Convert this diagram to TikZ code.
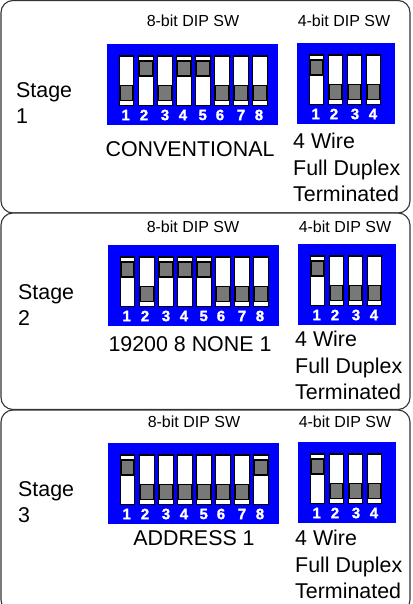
\documentclass[tikz,border=0pt]{standalone}
\usepackage{fontspec}
\setmainfont{Liberation Sans}
\newfontfamily\digitfont[FakeBold=1.5]{Liberation Sans Bold}
\usepackage{xcolor}
\usetikzlibrary{positioning}
\definecolor{dipblue}{HTML}{0000FF}
\definecolor{thumbgray}{HTML}{787878}
\definecolor{framegray}{HTML}{333333}
% #1 left, #2 top of the block, #3 block width, #4 list of slot/label x offsets/state
\newcommand{\dipbank}[4]{%
  \fill[dipblue] (#1,#2) rectangle ++(#3,81);
  \foreach \slotx/\labx/\num/\state in {#4}{
    \draw[black,fill=white,line width=1.3pt] ({#1+\slotx},{#2+12}) rectangle ++(14.5,49.5);
    \ifnum\state=1
      \draw[black,fill=thumbgray,line width=1.4pt] ({#1+\slotx+0.8},{#2+17}) rectangle ++(13,15);
    \else
      \draw[black,fill=thumbgray,line width=1.4pt] ({#1+\slotx+0.8},{#2+41.5}) rectangle ++(13,15);
    \fi
    \node[numlabel] (n-#1-#2-\num) at ({#1+\labx},{#2+71}) {\num};
  }
}
\begin{document}
\begin{tikzpicture}[x=1pt,y=-1pt]
  \tikzset{
    panel/.style={draw=framegray,line width=1.1pt,rounded corners=12pt,fill=white},
    numlabel/.style={text=white,font=\digitfont\fontsize{15}{16}\selectfont,inner sep=0pt},
    swtitle/.style={font=\fontsize{16}{18}\selectfont,text=black,inner sep=0pt},
    bigtext/.style={font=\fontsize{21.4}{26.6}\selectfont,text=black,inner sep=0pt,align=left},
  }
  \useasboundingbox (0,0) rectangle (412,604);
  \begin{scope}
    \clip (0,0) rectangle (412,604);
    \draw[panel] (1,0.5) rectangle (410,213);
    \draw[panel] (1,213) rectangle (410,409.5);
    \draw[panel] (1,410) rectangle (410,612);
  \end{scope}
  % stage 1
  \node[swtitle] (title81) at (193,21) {8-bit DIP SW};
  \node[swtitle] (title41) at (344,21) {4-bit DIP SW};
  \node[bigtext,anchor=north west] (stage1) at (16,82) {Stage\\1};
  \dipbank{107}{44}{171}{12.3/18.7/1/0,31.7/37/2/1,50.7/58/3/0,69.7/76/4/1,88.7/95.7/5/1,107.7/113/6/0,126.7/134/7/0,145.7/152/8/0}
  \dipbank{297}{43}{98}{12.3/18.7/1/1,31.3/37/2/0,50.3/58/3/0,69.3/76/4/0}
  \node[bigtext] (mode1) at (190,149) {CONVENTIONAL};
  \node[bigtext,anchor=north west] (duplex1) at (293,133) {4 Wire\\Full Duplex\\Terminated};
  % stage 2
  \node[swtitle] (title82) at (193,227) {8-bit DIP SW};
  \node[swtitle] (title42) at (345,227) {4-bit DIP SW};
  \node[bigtext,anchor=north west] (stage2) at (18,284) {Stage\\2};
  \dipbank{108}{245}{171}{12.3/18.7/1/1,31.7/37/2/0,50.7/58/3/1,69.7/76/4/1,88.7/95.7/5/1,107.7/113/6/0,126.7/134/7/0,145.7/152/8/0}
  \dipbank{298}{244}{98}{12.3/18.7/1/1,31.3/37/2/0,50.3/58/3/0,69.3/76/4/0}
  \node[bigtext] (mode2) at (190,344) {19200 8 NONE 1};
  \node[bigtext,anchor=north west] (duplex2) at (295,331) {4 Wire\\Full Duplex\\Terminated};
  % stage 3
  \node[swtitle] (title83) at (194,422) {8-bit DIP SW};
  \node[swtitle] (title43) at (345,422) {4-bit DIP SW};
  \node[bigtext,anchor=north west] (stage3) at (18,481) {Stage\\3};
  \dipbank{108}{443}{171}{12.3/18.7/1/1,31.7/37/2/0,50.7/58/3/0,69.7/76/4/0,88.7/95.7/5/0,107.7/113/6/0,126.7/134/7/0,145.7/152/8/1}
  \dipbank{298}{442}{98}{12.3/18.7/1/1,31.3/37/2/0,50.3/58/3/0,69.3/76/4/0}
  \node[bigtext] (mode3) at (194,538) {ADDRESS 1};
  \node[bigtext,anchor=north west] (duplex3) at (295,530) {4 Wire\\Full Duplex\\Terminated};
\end{tikzpicture}
\end{document}
